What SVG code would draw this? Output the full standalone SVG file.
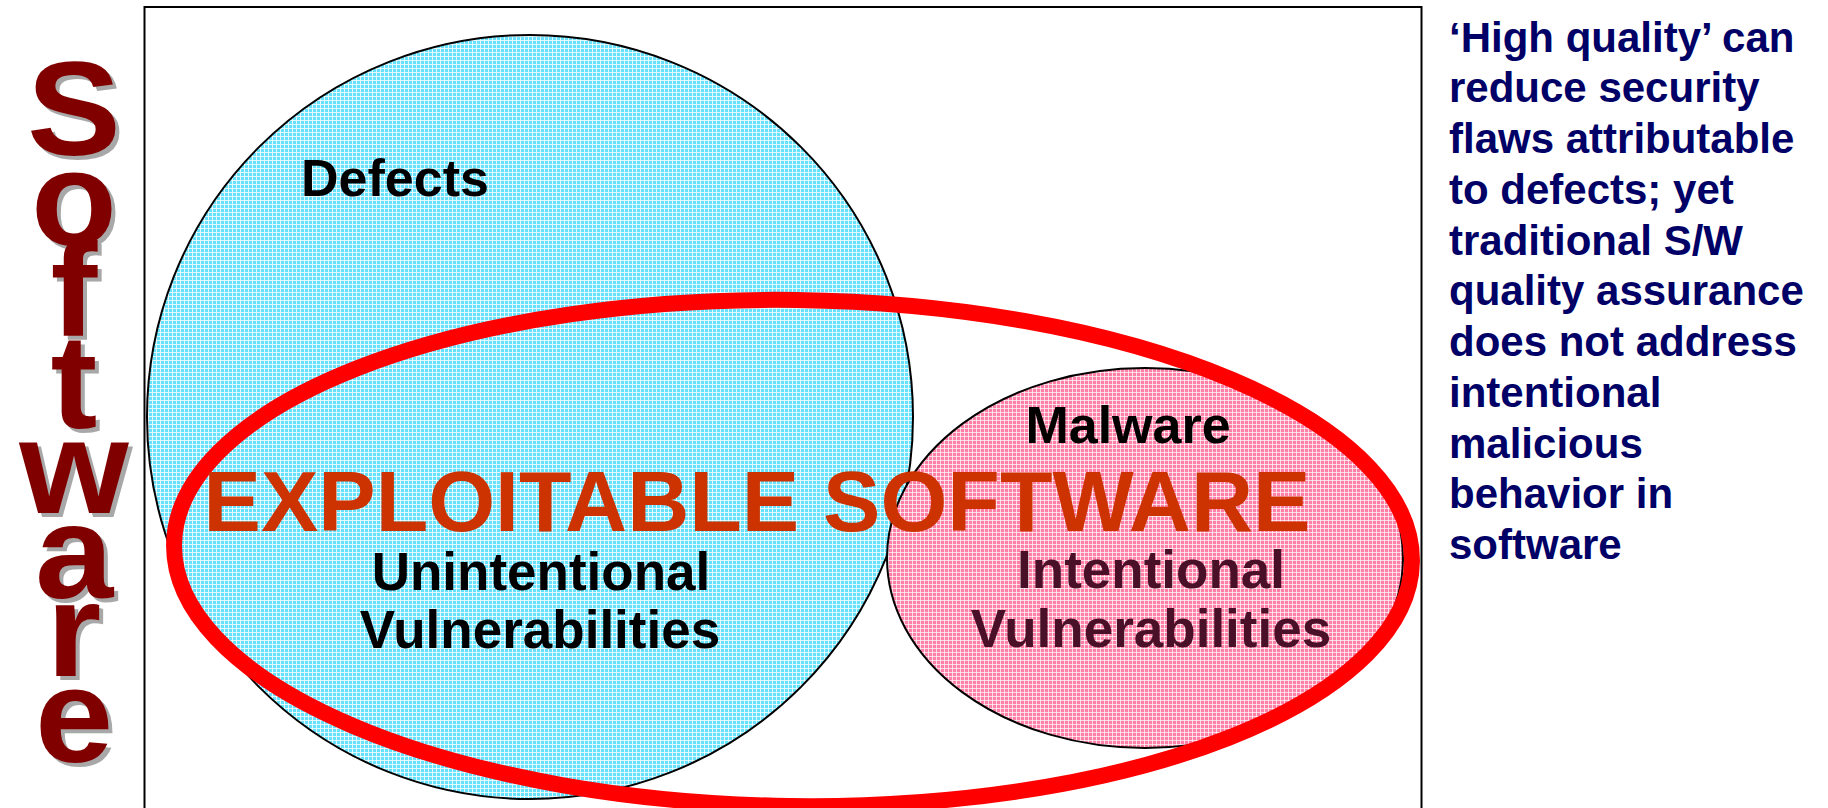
<svg xmlns="http://www.w3.org/2000/svg" width="1828" height="808" viewBox="0 0 1828 808">
<defs>
<pattern id="pBlue" width="4" height="4" patternUnits="userSpaceOnUse">
<rect width="4" height="4" fill="#66e2ff"/>
<rect width="4" height="1" fill="#ffffff" opacity="0.8"/>
<rect width="1" height="4" fill="#ffffff" opacity="0.8"/>
</pattern>
<pattern id="pPink" width="4" height="4" patternUnits="userSpaceOnUse">
<rect width="4" height="4" fill="#ff7fa6"/>
<rect width="4" height="1" fill="#ffffff" opacity="0.7"/>
<rect width="1" height="4" fill="#ffffff" opacity="0.7"/>
</pattern>
</defs>
<style>
.b{font-family:"Liberation Sans",Arial,sans-serif;font-weight:bold}
.lbl{font-size:53px;fill:#000;text-anchor:middle}
.sw{font-size:134px;text-anchor:middle}
.swf{fill:#800000}
.sws{fill:#a8a8a8}
.note{font-size:42px;fill:#000066}
</style>
<rect x="0" y="0" width="1828" height="808" fill="#fff"/>
<g id="frame"><rect x="144.5" y="7" width="1277" height="810" fill="#fff" stroke="#000" stroke-width="2"/></g>
<g id="software-label" class="b sw">
<g transform="translate(78,4) scale(1.05,1)" class="sws">
<text x="0" y="155">S</text><text x="0" y="245">o</text><text x="0" y="336">f</text><text x="0" y="428">t</text><text x="0" y="513">w</text><text x="0" y="598">a</text><text x="0" y="676">r</text><text x="0" y="762">e</text>
</g>
<g transform="translate(74,0) scale(1.05,1)" class="swf">
<text x="0" y="155">S</text><text x="0" y="245">o</text><text x="0" y="336">f</text><text x="0" y="428">t</text><text x="0" y="513">w</text><text x="0" y="598">a</text><text x="0" y="676">r</text><text x="0" y="762">e</text>
</g>
</g>
<g id="defects">
<ellipse cx="530" cy="417" rx="383" ry="382" fill="url(#pBlue)" stroke="#000" stroke-width="2"/>
<text class="b lbl" x="395" y="196" style="font-size:52px">Defects</text>
</g>
<g id="malware">
<ellipse cx="1145" cy="558" rx="258" ry="190" fill="url(#pPink)" stroke="#000" stroke-width="2"/>
<text class="b lbl" x="1128" y="443" style="font-size:52px">Malware</text>
</g>
<g id="exploitable">
<ellipse cx="793" cy="553" rx="619" ry="253" fill="none" stroke="#ff0000" stroke-width="16" transform="rotate(0.8 793 553)"/>
</g>
<g id="unintentional">
<text class="b lbl" x="541" y="590">Unintentional</text>
<text class="b lbl" x="540" y="648">Vulnerabilities</text>
</g>
<g id="intentional">
<text class="b lbl" x="1151" y="588" style="fill:#4a1028">Intentional</text>
<text class="b lbl" x="1151" y="647" style="fill:#4a1028">Vulnerabilities</text>
</g>
<g id="exploitable-label">
<text class="b" x="757" y="531" text-anchor="middle" style="font-size:86px;fill:#cc3300">EXPLOITABLE SOFTWARE</text>
</g>
<g id="note" class="b note">
<text x="1449" y="52">‘High quality’ can</text>
<text x="1449" y="102">reduce security</text>
<text x="1449" y="153">flaws attributable</text>
<text x="1449" y="204">to defects; yet</text>
<text x="1449" y="255">traditional S/W</text>
<text x="1449" y="305">quality assurance</text>
<text x="1449" y="356">does not address</text>
<text x="1449" y="407">intentional</text>
<text x="1449" y="458">malicious</text>
<text x="1449" y="508">behavior in</text>
<text x="1449" y="559">software</text>
</g>
</svg>
